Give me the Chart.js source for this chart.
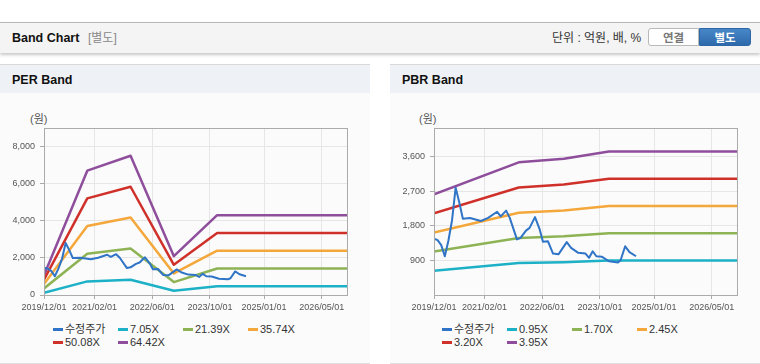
<!DOCTYPE html>
<html lang="ko">
<head>
<meta charset="utf-8">
<script src="https://cdn.jsdelivr.net/npm/chart.js@4.4.1/dist/chart.umd.min.js"></script>
<style>
body{margin:0;width:760px;height:364px;background:#fff;font-family:"Liberation Sans",Arial,"Noto Sans CJK KR",sans-serif;position:relative;overflow:hidden}
.abs{position:absolute}
.topbar{left:0;top:22px;width:760px;height:30px;background:#f4f4f4;border-top:1px solid #b8b8b8;box-shadow:0 2px 3px rgba(0,0,0,.22)}
.title{left:12px;top:23px;line-height:30px;font-size:12.5px;font-weight:bold;color:#111}
.sub{left:88px;top:23px;line-height:30px;font-size:12px;color:#888}
.unit{left:552px;top:23px;line-height:30px;font-size:12px;color:#333}
.btn{top:28px;height:18px;line-height:18px;font-size:11.5px;font-weight:bold;text-align:center;box-sizing:border-box}
.btn1{left:648px;width:51px;background:#fff;border:1px solid #b9b9b9;border-radius:3px 0 0 3px;color:#777}
.btn2{left:699px;width:52px;background:linear-gradient(#4787c8,#2e6aab);border:1px solid #2e67a5;border-radius:0 3px 3px 0;color:#fff}
.panel{top:64px;width:370px;height:298px;background:#fbfbfb;border-top:1px solid #d9d9d9;border-bottom:1px solid #dedede}
.phead{left:0;top:0;width:370px;height:28px;background:#eef1f6;line-height:30px;font-size:12.5px;font-weight:bold;color:#111;text-indent:12px}
.won{font-size:11px;color:#555}
.leg{font-size:11px;color:#333;white-space:nowrap;line-height:13px}
.leg i{display:inline-block;width:10px;height:3px;margin-right:2px;vertical-align:middle;position:relative;top:-1px}
</style>
</head>
<body>
<div class="abs topbar"></div>
<div class="abs title">Band Chart</div>
<div class="abs sub">[별도]</div>
<div class="abs unit">단위 : 억원, 배, %</div>
<div class="abs btn btn1">연결</div>
<div class="abs btn btn2">별도</div>

<div class="abs panel" style="left:0"><div class="abs phead">PER Band</div></div>
<div class="abs panel" style="left:390px"><div class="abs phead">PBR Band</div></div>

<div class="abs won" style="left:30px;top:110px">(원)</div>
<div class="abs won" style="left:419px;top:110px">(원)</div>

<canvas id="perChart" class="abs" width="370" height="222" style="left:0;top:93px"></canvas>
<canvas id="pbrChart" class="abs" width="370" height="222" style="left:390px;top:93px"></canvas>

<div id="perLegend" class="abs" style="left:53px;top:323px;width:300px;height:30px"></div>
<div id="pbrLegend" class="abs" style="left:442px;top:323px;width:300px;height:30px"></div>

<script>
// x axis = months since 2019/12/01
const tickMonths = [0, 14, 30, 46, 61, 77]
const tickLabels = ['2019/12/01', '2021/02/01', '2022/06/01', '2023/10/01', '2025/01/01', '2026/05/01']

// 수정주가 (same series in both charts)
const priceMonths = [0, 1, 2, 3, 4, 5, 6, 7, 8, 10, 13, 15, 17.5, 18.5, 20, 21, 23, 24, 25.5, 26.5, 28, 29.3, 30.2, 31.6, 33, 34.5, 36.8, 38, 40, 42, 43, 44, 45, 46.5, 48.5, 51, 51.7, 53, 54.2, 56]
const priceValues = [1470, 1430, 1300, 1010, 1420, 1950, 2800, 2420, 1990, 2010, 1930, 2010, 2170, 2050, 2200, 2010, 1450, 1490, 1680, 1750, 2030, 1710, 1390, 1400, 1080, 1060, 1380, 1230, 1100, 1080, 970, 1140, 1010, 1000, 880, 850, 900, 1270, 1120, 1010]

// PER bands
const perNames = ['7.05X', '21.39X', '35.74X', '50.08X', '64.42X']
const perMonths = [0, 12, 24, 36, 48, 84]
const per705 = [116, 733, 821, 229, 471, 471]
const per2139 = [353, 2225, 2500, 695, 1429, 1429]
const per3574 = [590, 3717, 4180, 1162, 2387, 2387]
const per5008 = [826, 5208, 5834, 1628, 3345, 3345]
const per6442 = [1063, 6700, 7505, 2094, 4303, 4303]
const perTicks = [0, 2000, 4000, 6000, 8000]

// PBR bands
const pbrNames = ['0.95X', '1.70X', '2.45X', '3.20X', '3.95X']
const pbrMonths = [0, 23.5, 36, 48.5, 84]
const pbr095 = [632, 832, 855, 900, 900]
const pbr170 = [1131, 1489, 1530, 1610, 1610]
const pbr245 = [1629, 2146, 2205, 2320, 2320]
const pbr320 = [2128, 2803, 2880, 3030, 3030]
const pbr395 = [2627, 3460, 3555, 3741, 3741]
const pbrTicks = [900, 1800, 2700, 3600]

const priceColor = '#2f74c6'
const bandColors = ['#1cb1c7', '#8db355', '#f4a73a', '#d0302a', '#8e4e9b']

let toPoints = (xs, ys) => xs.map((x, i) => ({x: x, y: ys[i]}))

// plot frame on all four sides
const framePlugin = {
    id: 'frame',
    afterDraw(chart) {
        let a = chart.chartArea, ctx = chart.ctx
        ctx.save()
        ctx.strokeStyle = '#ababab'
        ctx.lineWidth = 1
        ctx.strokeRect(Math.round(a.left) + 0.5, Math.round(a.top) + 0.5, Math.round(a.right - a.left), Math.round(a.bottom - a.top))
        ctx.restore()
    }
}

let makeChart = (id, names, months, bands, yMax, yTicks) => {
    let datasets = [{
        label: '수정주가',
        data: toPoints(priceMonths, priceValues),
        borderColor: priceColor,
        borderWidth: 2
    }]
    bands.forEach((b, i) => {
        datasets.push({
            label: names[i],
            data: toPoints(months, b),
            borderColor: bandColors[i],
            borderWidth: 2.5
        })
    })
    return new Chart(document.getElementById(id), {
        type: 'line',
        data: {datasets: datasets},
        options: {
            responsive: false,
            animation: false,
            devicePixelRatio: 1,
            layout: {padding: {top: 35, right: 23, bottom: 0, left: 0}},
            elements: {point: {radius: 0}, line: {tension: 0, borderJoinStyle: 'round'}},
            plugins: {legend: {display: false}, tooltip: {enabled: false}},
            scales: {
                x: {
                    type: 'linear', min: 0, max: 84,
                    afterBuildTicks: s => { s.ticks = tickMonths.map(v => ({value: v})) },
                    afterFit: s => { s.height = 20 },
                    grid: {color: '#e6e6e6', tickColor: '#aaa', tickLength: 4},
                    border: {color: '#ababab'},
                    ticks: {
                        autoSkip: false, maxRotation: 0, padding: 3, color: '#555',
                        font: {size: 9, family: '"Liberation Sans", Arial'},
                        callback: v => tickLabels[tickMonths.indexOf(v)]
                    }
                },
                y: {
                    min: 0, max: yMax,
                    afterBuildTicks: s => { s.ticks = yTicks.map(v => ({value: v})) },
                    afterFit: s => { s.width = 44 },
                    grid: {color: '#e6e6e6', tickColor: '#aaa', tickLength: 4},
                    border: {color: '#ababab'},
                    ticks: {
                        padding: 5, color: '#555',
                        font: {size: 9, family: '"Liberation Sans", Arial'},
                        callback: v => v.toLocaleString('en-US')
                    }
                }
            }
        },
        plugins: [framePlugin]
    })
}

let renderLegend = (elId, names, bandNames) => {
    let el = document.getElementById(elId)
    let items = [[names, priceColor]].concat(bandNames.map((n, i) => [n, bandColors[i]]))
    items.forEach((it, i) => {
        let d = document.createElement('div')
        d.className = 'abs leg'
        d.style.left = (i % 4) * 65 + 'px'
        d.style.top = Math.floor(i / 4) * 13 + 'px'
        d.innerHTML = `<i style="background:${it[1]}"></i>${it[0]}`
        el.appendChild(d)
    })
}

makeChart('perChart', perNames, perMonths, [per705, per2139, per3574, per5008, per6442], 9000, perTicks)
makeChart('pbrChart', pbrNames, pbrMonths, [pbr095, pbr170, pbr245, pbr320, pbr395], 4355, pbrTicks)
renderLegend('perLegend', '수정주가', perNames)
renderLegend('pbrLegend', '수정주가', pbrNames)
</script>
</body>
</html>
